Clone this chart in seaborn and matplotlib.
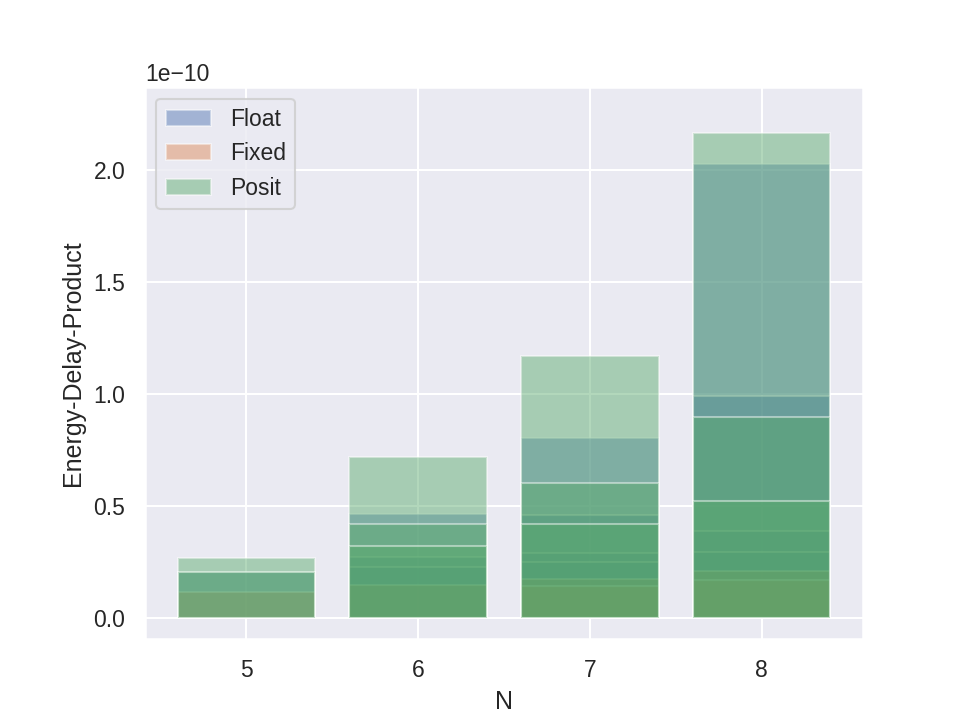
import numpy as np
import matplotlib
matplotlib.use("Agg")
import matplotlib.pyplot as plt
import seaborn as sns

sns.set_theme()
plt.rcParams['font.family'] = ['Liberation Sans', 'DejaVu Sans']

# Energy-delay-product (x1e-10) per bit width N, one bar per configuration
float_n = [5, 6, 6, 6, 7, 7, 7, 7, 8, 8, 8, 8]
float_edp = [0.202,
             0.464, 0.271, 0.225,
             0.800, 0.457, 0.289, 0.251,
             2.027, 0.991, 0.385, 0.292]

fixed_n = [5, 6, 7, 7, 8, 8]
fixed_edp = [0.113, 0.147, 0.174, 0.140, 0.207, 0.170]

posit_n = [5, 5, 6, 6, 6, 7, 7, 7, 8, 8, 8]
posit_edp = [0.266, 0.202,
             0.717, 0.417, 0.318,
             1.170, 0.600, 0.418,
             2.164, 0.896, 0.519]

ticks = [5, 6, 7, 8]

fig = plt.figure(figsize=(6.4, 4.8), dpi=150)
ax = fig.add_subplot(111)
fig.subplots_adjust(left=0.151, right=0.899, bottom=0.112, top=0.879)

for name, ns, vals, col in [("Float", float_n, float_edp, "C0"),
                            ("Fixed", fixed_n, fixed_edp, "C1"),
                            ("Posit", posit_n, posit_edp, "C2")]:
    for i, (n, v) in enumerate(zip(ns, vals)):
        ax.bar(n, v * 1e-10, width=0.8, color=col, alpha=0.45,
               label=name if i == 0 else None)

ax.set_xticks(ticks)
ax.set_ylim(-0.0964e-10, 2.368e-10)
ax.set_xlabel("N")
ax.set_ylabel("Energy-Delay-Product")
ax.legend(loc="upper left")

fig.savefig("out.png", dpi=150)
